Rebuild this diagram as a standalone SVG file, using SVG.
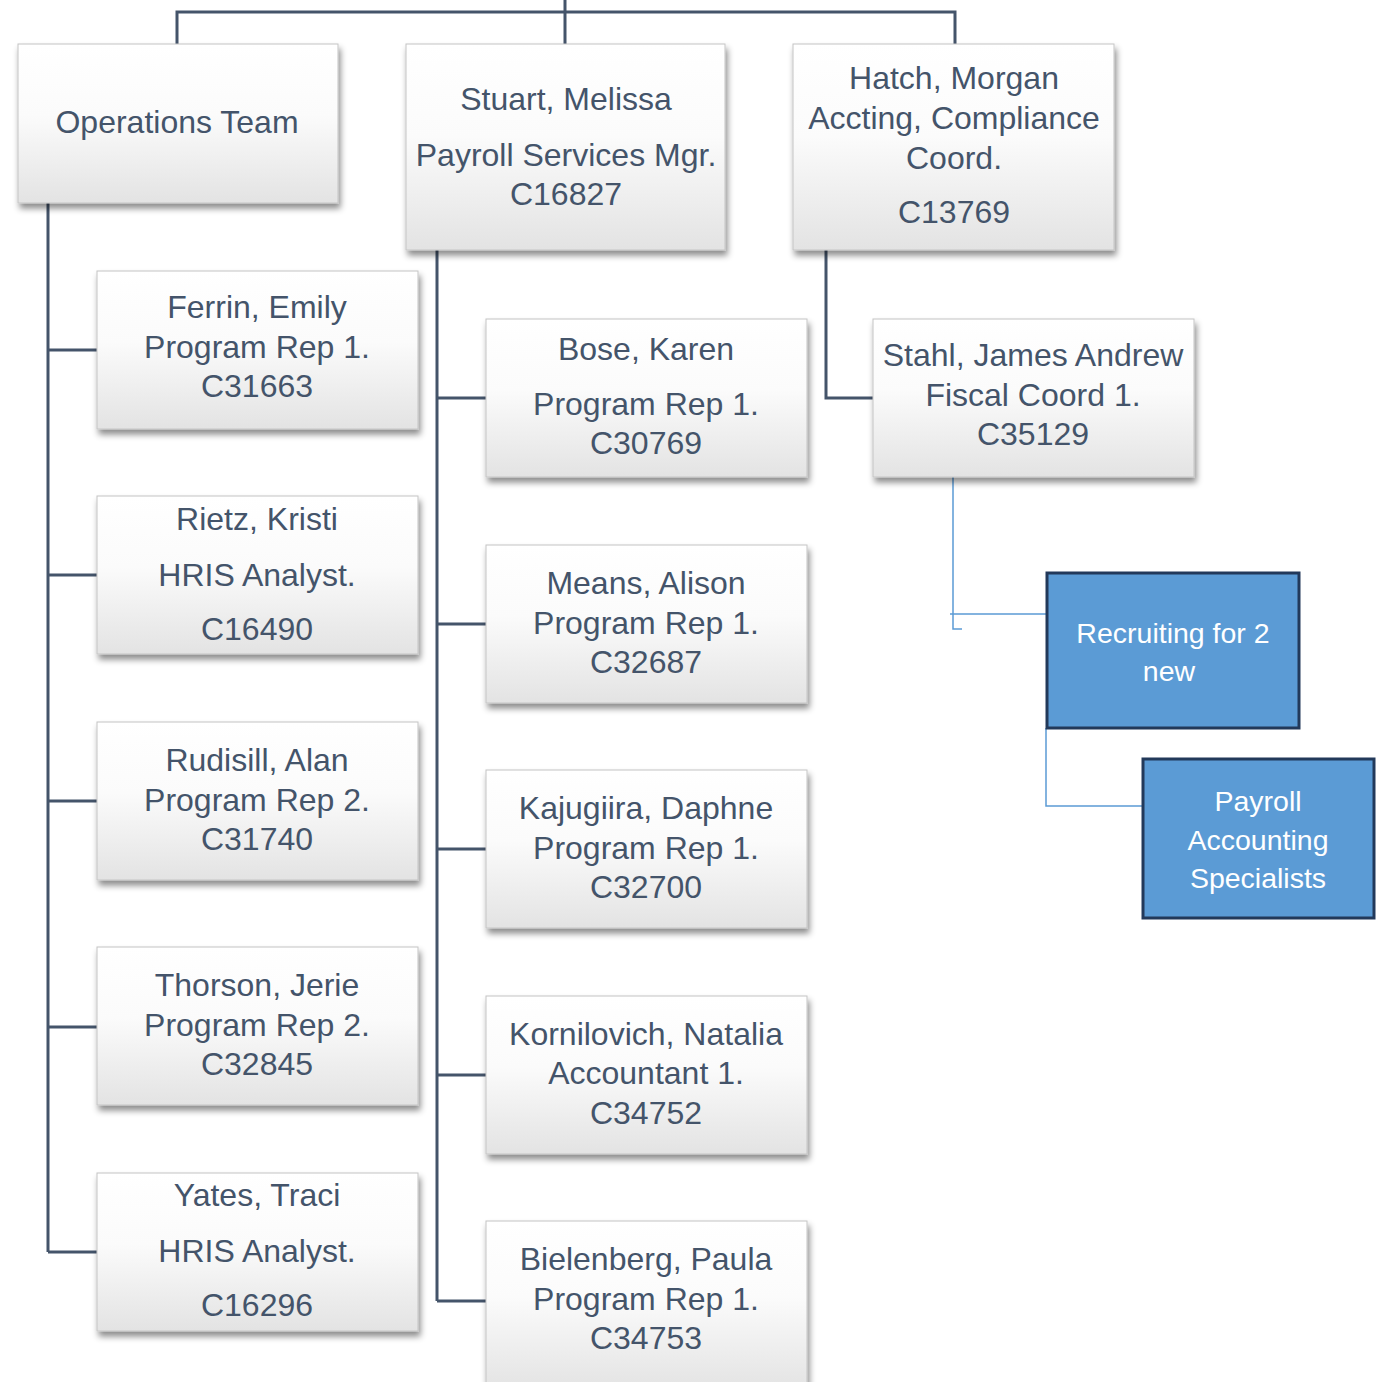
<svg xmlns="http://www.w3.org/2000/svg" width="1384" height="1382" viewBox="0 0 1384 1382">
<defs>
<linearGradient id="g" x1="0" y1="0" x2="0" y2="1">
<stop offset="0" stop-color="#ffffff"/>
<stop offset="0.45" stop-color="#fbfbfb"/>
<stop offset="1" stop-color="#e3e3e3"/>
</linearGradient>
<filter id="sh" x="-10%" y="-10%" width="125%" height="130%">
<feDropShadow dx="2" dy="5" stdDeviation="3" flood-color="#000" flood-opacity="0.45"/>
</filter>
</defs>
<style>
.box{fill:url(#g);stroke:#c4c4c4;stroke-width:1;filter:url(#sh)}
.blue{fill:#5B9BD5;stroke:#22395a;stroke-width:3}
.t{font-family:"Liberation Sans",Arial,sans-serif;font-size:32px;fill:#44546A;text-anchor:middle}
.w{font-family:"Liberation Sans",Arial,sans-serif;font-size:28.5px;fill:#ffffff;text-anchor:middle}
.c{fill:none;stroke:#44546A;stroke-width:3}
.cb{fill:none;stroke:#5B9BD5;stroke-width:1.5}
</style>
<rect width="1384" height="1382" fill="#ffffff"/>
<g id="connectors">
<path class="c" d="M177 44 V12 H955 V44 M565 0 V44"/>
<path class="c" d="M48 203 V1252 M48 350 H97 M48 575 H97 M48 801 H97 M48 1027 H97 M48 1252 H97"/>
<path class="c" d="M437 250 V1301 M437 398 H486 M437 624 H486 M437 849 H486 M437 1075 H486 M437 1301 H486"/>
<path class="c" d="M826 250 V398 H873"/>
<path class="cb" d="M953 477 V629 H962 M950 614 H1047"/>
<path class="cb" d="M1046 728 V806 H1143"/>
</g>
<g id="ops"><rect class="box" x="18" y="44" width="320" height="159"/><text class="t" x="177" y="133">Operations Team</text></g>
<g id="stuart"><rect class="box" x="406" y="44" width="319" height="206"/><text class="t" x="566" y="110">Stuart, Melissa</text><text class="t" x="566" y="166">Payroll Services Mgr.</text><text class="t" x="566" y="205">C16827</text></g>
<g id="hatch"><rect class="box" x="793" y="44" width="321" height="206"/><text class="t" x="954" y="89">Hatch, Morgan</text><text class="t" x="954" y="129">Accting, Compliance</text><text class="t" x="954" y="169">Coord.</text><text class="t" x="954" y="223">C13769</text></g>
<g id="ferrin"><rect class="box" x="97" y="271" width="321" height="158"/><text class="t" x="257" y="318">Ferrin, Emily</text><text class="t" x="257" y="358">Program Rep 1.</text><text class="t" x="257" y="397">C31663</text></g>
<g id="rietz"><rect class="box" x="97" y="496" width="321" height="158"/><text class="t" x="257" y="530">Rietz, Kristi</text><text class="t" x="257" y="586">HRIS Analyst.</text><text class="t" x="257" y="640">C16490</text></g>
<g id="rudisill"><rect class="box" x="97" y="722" width="321" height="158"/><text class="t" x="257" y="771">Rudisill, Alan</text><text class="t" x="257" y="811">Program Rep 2.</text><text class="t" x="257" y="850">C31740</text></g>
<g id="thorson"><rect class="box" x="97" y="947" width="321" height="158"/><text class="t" x="257" y="996">Thorson, Jerie</text><text class="t" x="257" y="1036">Program Rep 2.</text><text class="t" x="257" y="1075">C32845</text></g>
<g id="yates"><rect class="box" x="97" y="1173" width="321" height="158"/><text class="t" x="257" y="1206">Yates, Traci</text><text class="t" x="257" y="1262">HRIS Analyst.</text><text class="t" x="257" y="1316">C16296</text></g>
<g id="bose"><rect class="box" x="486" y="319" width="321" height="158"/><text class="t" x="646" y="360">Bose, Karen</text><text class="t" x="646" y="415">Program Rep 1.</text><text class="t" x="646" y="454">C30769</text></g>
<g id="means"><rect class="box" x="486" y="545" width="321" height="158"/><text class="t" x="646" y="594">Means, Alison</text><text class="t" x="646" y="634">Program Rep 1.</text><text class="t" x="646" y="673">C32687</text></g>
<g id="kajugiira"><rect class="box" x="486" y="770" width="321" height="158"/><text class="t" x="646" y="819">Kajugiira, Daphne</text><text class="t" x="646" y="859">Program Rep 1.</text><text class="t" x="646" y="898">C32700</text></g>
<g id="kornilovich"><rect class="box" x="486" y="996" width="321" height="158"/><text class="t" x="646" y="1045">Kornilovich, Natalia</text><text class="t" x="646" y="1084">Accountant 1.</text><text class="t" x="646" y="1124">C34752</text></g>
<g id="bielenberg"><rect class="box" x="486" y="1221" width="321" height="170"/><text class="t" x="646" y="1270">Bielenberg, Paula</text><text class="t" x="646" y="1310">Program Rep 1.</text><text class="t" x="646" y="1349">C34753</text></g>
<g id="stahl"><rect class="box" x="873" y="319" width="321" height="158"/><text class="t" x="1033" y="366">Stahl, James Andrew</text><text class="t" x="1033" y="406">Fiscal Coord 1.</text><text class="t" x="1033" y="445">C35129</text></g>
<g id="recruiting"><rect class="blue" x="1047" y="573" width="252" height="155"/><text class="w" x="1173" y="643">Recruiting for 2</text><text class="w" x="1169" y="681">new</text></g>
<g id="payroll"><rect class="blue" x="1143" y="759" width="231" height="159"/><text class="w" x="1258" y="811">Payroll</text><text class="w" x="1258" y="850">Accounting</text><text class="w" x="1258" y="888">Specialists</text></g>
</svg>
